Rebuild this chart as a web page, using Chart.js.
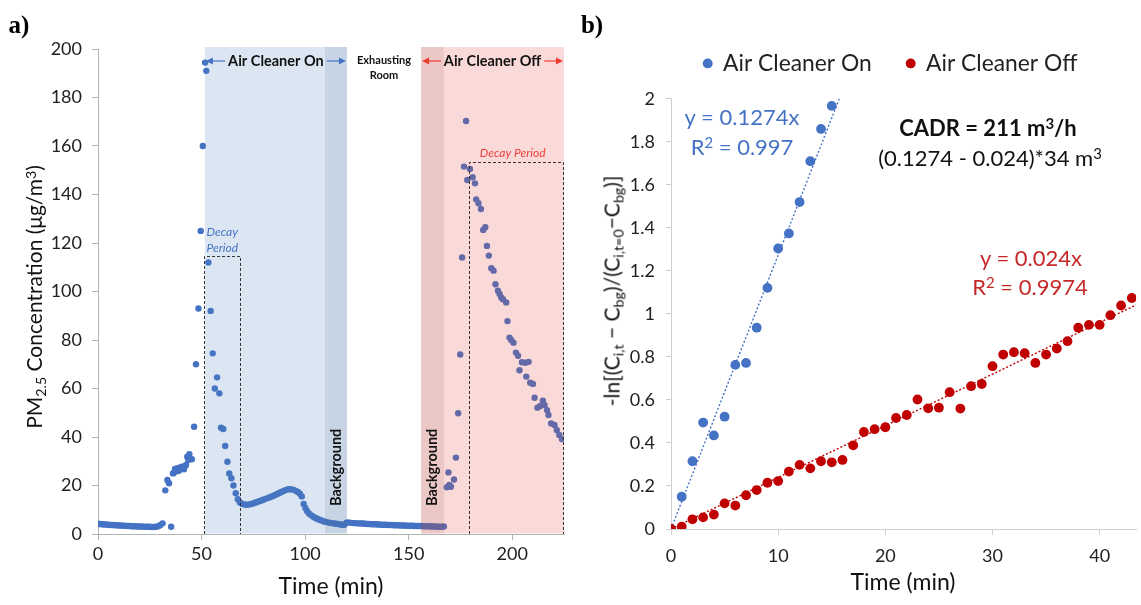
<!DOCTYPE html>
<html><head><meta charset="utf-8">
<script src="https://cdn.jsdelivr.net/npm/chart.js@4.4.1/dist/chart.umd.min.js"></script>
<style>
html,body{margin:0;padding:0;background:#fff;}
body{width:1141px;height:605px;position:relative;overflow:hidden;font-family:Lato,'Open Sans',sans-serif;color:#111;}
canvas{position:absolute;top:0;}
#left{left:0;}
#right{left:575px;}
.t{position:absolute;white-space:nowrap;transform:translate(-50%,-50%);line-height:1;}
.r{transform:translate(-50%,-50%) rotate(-90deg);}
sub,sup{font-size:0.68em;line-height:0;position:relative;vertical-align:baseline;}
sub{top:0.3em;} sup{top:-0.45em;}
.panel{font-family:'Liberation Serif','DejaVu Serif',serif;font-weight:bold;font-size:25px;color:#000;}
</style></head><body>
<canvas id="left" width="575" height="605"></canvas>
<canvas id="right" width="566" height="605"></canvas>
<div class="t panel" style="left:19px;top:24px">a)</div>
<div class="t panel" style="left:592px;top:24px">b)</div>
<div class="t r" style="left:33px;top:297px;font-size:21px">PM<sub>2.5</sub> Concentration (μg/m<sup>3</sup>)</div>
<div class="t" style="left:331px;top:585px;font-size:23px">Time (min)</div>
<div class="t r" style="left:611px;top:291px;font-size:21px">-ln[(C<sub>i,t</sub> − C<sub>bg</sub>)/(C<sub>i,t=0</sub>−C<sub>bg</sub>)]</div>
<div class="t" style="left:903px;top:581px;font-size:23px">Time (min)</div>
<div class="t" style="left:742px;top:117px;font-size:22px;color:#4472c4">y = 0.1274x</div>
<div class="t" style="left:742px;top:147px;font-size:22px;color:#4472c4">R<sup>2</sup> = 0.997</div>
<div class="t" style="left:988px;top:128px;font-size:22px;font-weight:bold">CADR = 211 m<sup>3</sup>/h</div>
<div class="t" style="left:990px;top:158px;font-size:22px">(0.1274 - 0.024)*34 m<sup>3</sup></div>
<div class="t" style="left:1031px;top:258px;font-size:22px;color:#c62828">y = 0.024x</div>
<div class="t" style="left:1030px;top:287px;font-size:22px;color:#c62828">R<sup>2</sup> = 0.9974</div>
<script>
// ---------- Panel a) data ----------
const pmTime = [
 0,1,2,3,4,5,6,7,8,9,10,11,12,13,14,15,16,17,18,19,20,21,22,23,24,25,26,27,28,29,30,
 31.2,32.5,33.5,34.3,35.3,36.2,36.7,37.2,37.7,38.3,38.8,39.3,39.9,40.4,41.0,41.5,42.0,42.5,43.1,43.6,44.1,45.3,46.4,47.3,48.5,49.6,50.6,51.7,52.3,
 53.3,54.4,55.4,56.4,57.5,58.6,59.4,60.5,61.4,62.5,63.4,64.4,65.4,66.5,67.5,
 68.5,69.5,70.5,71.5,72.5,73.5,74.5,75.5,76.5,77.5,78.5,79.5,80.5,81.5,82.5,83.5,84.5,85.5,86.5,87.5,88.5,89.5,90.5,91.5,92.5,93.5,94.5,95.5,96.5,97.5,
 98.4,99.3,100.2,
 101,102,103,104,105,106,107,108,109,110,111,112,113,114,115,116,117,118,119,
 120,121,122,123,124,125,126,127,128,129,130,131,132,133,134,135,136,137,138,139,140,141,142,143,144,145,146,147,148,149,
 150,151,152,153,154,155,156,157,158,159,160,161,162,163,164,165,166,167,
 168.4,169.2,169.6,170.4,171.9,172.8,173.9,174.9,175.8,176.7,177.7,178.3,179.6,180.9,182.0,182.6,183.7,184.9,186.0,187.0,
 187.8,188.7,189.9,191.0,191.9,193.1,193.9,194.7,195.5,197.1,197.7,198.7,199.5,200.6,201.8,202.8,203.5,204.7,206.3,206.8,
 207.9,208.7,210.0,210.8,212.2,213.5,214.8,215.6,216.8,217.5,218.8,220.4,221.5,222.7,224.0
];
const pmValue = [
 4.2,4.1,4.0,3.9,3.9,3.8,3.7,3.7,3.6,3.6,3.5,3.5,3.4,3.4,3.3,3.3,3.2,3.2,3.2,3.1,3.1,3.1,3.0,3.0,3.0,3.0,2.9,2.9,3.0,3.2,3.6,
 4.4,18,22.3,20.9,3.0,25.0,25.3,26.8,26.1,27.1,26.0,26.4,27.5,27.8,27.2,26.7,28.0,28.5,31.9,30.5,32.9,30.8,44.2,70,93,125,160,194.4,191,
 112,92,74.5,60,64.6,58,43.8,43.3,36.3,29.8,25,23,20,16.8,14.3,
 13.0,12.5,12.2,12.1,12.1,12.3,12.5,12.8,13.1,13.4,13.7,14.0,14.4,14.7,15.0,15.4,15.7,16.1,16.5,16.9,17.3,17.7,18.1,18.4,18.5,18.4,18.2,17.8,17.3,16.6,
 15.5,12.4,10.6,
 9.4,8.4,7.7,7.1,6.6,6.2,5.9,5.6,5.2,5.0,4.8,4.6,4.5,4.3,4.2,4.1,3.9,3.8,3.8,
 4.7,4.8,4.6,4.5,4.5,4.4,4.4,4.3,4.3,4.2,4.1,4.1,4.0,4.0,4.0,3.9,3.9,3.8,3.8,3.8,3.7,3.7,3.7,3.6,3.6,3.6,3.5,3.5,3.5,3.4,
 3.4,3.4,3.4,3.3,3.3,3.3,3.3,3.2,3.2,3.2,3.2,3.1,3.1,3.1,3.0,3.0,3.0,3.1,
 19.3,25.4,20.2,19.5,22.5,31.5,49.8,74,114,151.5,170.3,146,150.5,147.1,144.6,138,136.4,134,125.4,126.5,
 118.8,114.8,109.6,108.6,103,100.3,99,97.5,96.8,95.5,87.8,81,80,78.9,74.8,73.5,67.5,70.8,70.6,64.9,
 71,62.4,61.9,56.2,52.1,52.8,55,53.2,51.1,49.1,45.6,45,42.9,40.8,39.2
];
const leftXTicks = [0,50,100,150,200];
const leftYTicks = [0,20,40,60,80,100,120,140,160,180,200];
// periods (minutes) and decay boxes [start, end, top value]
const onPeriod = [51.6, 120.2];
const onBackground = [109.6, 120.2];
const offPeriod = [156.0, 225];
const offBackground = [156.0, 167.0];
const onDecayBox = [51.4, 68.5, 114.5];
const offDecayBox = [179.0, 224.4, 153.5];

// ---------- Panel b) data ----------
const decayTime = [0,1,2,3,4,5,6,7,8,9,10,11,12,13,14,15,16,17,18,19,20,21,22,23,24,25,26,27,28,29,30,31,32,33,34,35,36,37,38,39,40,41,42,43];
const onDecay = [0,0.15,0.315,0.495,0.435,0.522,0.763,0.772,0.936,1.121,1.304,1.374,1.52,1.71,1.86,1.967];
const offDecay = [0,0.011,0.045,0.054,0.067,0.119,0.109,0.157,0.181,0.215,0.223,0.267,0.298,0.282,0.315,0.31,0.321,0.389,0.451,0.464,0.473,0.516,0.53,0.602,0.561,0.564,0.636,0.56,0.664,0.674,0.757,0.811,0.822,0.817,0.772,0.811,0.839,0.873,0.936,0.949,0.949,0.994,1.039,1.074];
const onSlope = 0.1274;
const offSlope = 0.024;
const rightXTicks = [0,10,20,30,40];
const rightYTicks = [0,0.2,0.4,0.6,0.8,1,1.2,1.4,1.6,1.8,2];

Chart.defaults.font.family = "Lato, 'Open Sans', sans-serif";
Chart.defaults.color = '#222';

function arrow(ctx, x1, x2, y, color){
  const d = Math.sign(x2 - x1);
  ctx.strokeStyle = color; ctx.fillStyle = color; ctx.lineWidth = 1.2;
  ctx.beginPath(); ctx.moveTo(x1, y); ctx.lineTo(x2 - d*4, y); ctx.stroke();
  ctx.beginPath(); ctx.moveTo(x2, y); ctx.lineTo(x2 - d*7, y - 3.5); ctx.lineTo(x2 - d*7, y + 3.5); ctx.closePath(); ctx.fill();
}

const leftDecor = {
  id: 'leftDecor',
  afterDatasetsDraw(chart){
    const {ctx, chartArea: ca, scales: {x, y}} = chart;
    const px = v => x.getPixelForValue(v);
    const py = v => y.getPixelForValue(v);
    ctx.save();
    const band = (r, c) => { const a = px(r[0]), b = px(r[1]); ctx.fillStyle = c; ctx.fillRect(a, ca.top - 2, b - a, ca.bottom - ca.top + 1.5); };
    band(onPeriod, 'rgba(80,130,190,0.2)');
    band(onBackground, 'rgba(60,90,130,0.13)');
    band(offPeriod, 'rgba(230,70,60,0.2)');
    band(offBackground, 'rgba(120,60,60,0.12)');
    // dashed decay boxes
    ctx.strokeStyle = '#333'; ctx.lineWidth = 1; ctx.setLineDash([3, 2]);
    [onDecayBox, offDecayBox].forEach(b => {
      const l = Math.round(px(b[0])) + 0.5, r = Math.round(px(b[1])) + 0.5, t = Math.round(py(b[2])) + 0.5;
      ctx.beginPath(); ctx.moveTo(l, ca.bottom); ctx.lineTo(l, t); ctx.lineTo(r, t); ctx.lineTo(r, ca.bottom); ctx.stroke();
    });
    ctx.setLineDash([]);
    // period headings with arrows
    const heading = (r, text, color) => {
      ctx.font = 'bold 14.5px Lato'; ctx.fillStyle = '#111'; ctx.textAlign = 'center'; ctx.textBaseline = 'middle';
      const a = px(r[0]), b = px(r[1]), mid = (a + b) / 2, yy = ca.top + 12;
      ctx.fillText(text, mid, yy);
      const w = ctx.measureText(text).width;
      arrow(ctx, mid - w/2 - 3, a + 1, yy, color);
      arrow(ctx, mid + w/2 + 3, b - 1, yy, color);
    };
    heading(onPeriod, 'Air Cleaner On', '#4472c4');
    heading(offPeriod, 'Air Cleaner Off', '#ef3b32');
    const gapMid = (px(onPeriod[1]) + px(offPeriod[0])) / 2;
    ctx.font = 'bold 11px Lato'; ctx.fillStyle = '#111'; ctx.textAlign = 'center'; ctx.textBaseline = 'middle';
    ctx.fillText('Exhausting', gapMid, ca.top + 11);
    ctx.fillText('Room', gapMid, ca.top + 26);
    // Background labels (rotated)
    ctx.font = 'bold 14.5px Lato'; ctx.textAlign = 'left';
    [onBackground, offBackground].forEach(r => {
      ctx.save();
      ctx.translate((px(r[0]) + px(r[1])) / 2, ca.bottom - 28);
      ctx.rotate(-Math.PI / 2);
      ctx.fillText('Background', 0, 0);
      ctx.restore();
    });
    // Decay period labels
    ctx.font = 'italic 12px Lato'; ctx.textAlign = 'left'; ctx.fillStyle = '#4472c4';
    ctx.fillText('Decay', px(onDecayBox[0]) + 2, ca.top + 183);
    ctx.fillText('Period', px(onDecayBox[0]) + 2, ca.top + 199);
    ctx.fillStyle = '#f03c3c';
    ctx.fillText('Decay Period', px(offDecayBox[0]) + 11, ca.top + 104);
    ctx.restore();
  }
};

// centre the legend over the plotted series rather than the whole panel
const legendShift = {
  id: 'legendShift',
  afterLayout(chart){
    const lg = chart.legend;
    if (lg) { lg.left += 24; lg.right += 24; }
  }
};

const axisGrid = c => ({ display: true, drawOnChartArea: false, drawTicks: true, tickLength: 6, color: c });

new Chart(document.getElementById('left'), {
  type: 'scatter',
  data: { datasets: [{
    label: 'PM2.5',
    data: pmTime.map((t, i) => ({x: t, y: pmValue[i]})),
    backgroundColor: '#4472c4', borderColor: '#4472c4', borderWidth: 0,
    pointRadius: 3.2, pointHoverRadius: 3.2
  }]},
  options: {
    responsive: false, animation: false, devicePixelRatio: 1, events: [],
    layout: { padding: { top: 49, right: 11, left: 0, bottom: 0 } },
    plugins: { legend: { display: false }, tooltip: { enabled: false } },
    scales: {
      x: { type: 'linear', min: 0, max: 225,
        afterBuildTicks: s => { s.ticks = leftXTicks.map(v => ({value: v})); },
        afterFit: s => { s.height = 71; },
        grid: axisGrid('#b3b3b3'), border: { color: '#b3b3b3', width: 1 },
        ticks: { font: { size: 18 }, color: '#222', padding: 3, maxRotation: 0 } },
      y: { min: 0, max: 200,
        afterBuildTicks: s => { s.ticks = leftYTicks.map(v => ({value: v})); },
        afterFit: s => { s.width = 98; },
        grid: axisGrid('#b3b3b3'), border: { color: '#b3b3b3', width: 1 },
        ticks: { font: { size: 18 }, color: '#222', padding: 10 } }
    }
  },
  plugins: [leftDecor]
});

const onEnd = 2 / onSlope;
const offEnd = 43.4;
new Chart(document.getElementById('right'), {
  type: 'scatter',
  data: { datasets: [
    { label: 'Air Cleaner On', data: onDecay.map((v, i) => ({x: decayTime[i], y: v})),
      backgroundColor: '#4472c4', borderColor: '#4472c4', borderWidth: 0, pointRadius: 4.9, order: 0.5 },
    { label: 'Air Cleaner Off', data: offDecay.map((v, i) => ({x: decayTime[i], y: v})),
      backgroundColor: '#c00000', borderColor: '#c00000', borderWidth: 0, pointRadius: 4.9, order: 0 },
    { type: 'line', label: 'On fit', data: [{x: 0, y: 0}, {x: onEnd, y: onSlope * onEnd}],
      borderColor: '#4472c4', borderWidth: 1.4, borderDash: [2, 2], pointRadius: 0, fill: false, order: 1 },
    { type: 'line', label: 'Off fit', data: [{x: 0, y: 0}, {x: offEnd, y: offSlope * offEnd}],
      borderColor: '#c00000', borderWidth: 1.4, borderDash: [2, 2], pointRadius: 0, fill: false, order: 1 }
  ]},
  options: {
    responsive: false, animation: false, devicePixelRatio: 1, events: [],
    layout: { padding: { top: 17, right: 3, left: 20, bottom: 0 } },
    plugins: {
      legend: { display: true, position: 'top', align: 'center',
        labels: { usePointStyle: true, boxWidth: 8, boxHeight: 7, padding: 35,
          font: { size: 22.8 }, color: '#222', filter: item => item.datasetIndex < 2,
          sort: (a, b) => a.datasetIndex - b.datasetIndex } },
      subtitle: { display: true, text: '', weight: 500, padding: { top: 2, bottom: 2 }, font: { size: 10, lineHeight: 1 } },
      tooltip: { enabled: false }
    },
    scales: {
      x: { type: 'linear', min: 0, max: 43.4,
        afterBuildTicks: s => { s.ticks = rightXTicks.map(v => ({value: v})); },
        afterFit: s => { s.height = 76; },
        grid: axisGrid('#cfcfcf'), border: { color: '#cfcfcf', width: 1 },
        ticks: { font: { size: 18 }, color: '#222', padding: 10, maxRotation: 0 } },
      y: { min: 0, max: 2,
        afterBuildTicks: s => { s.ticks = rightYTicks.map(v => ({value: v})); },
        afterFit: s => { s.width = 76; },
        grid: Object.assign(axisGrid('#cfcfcf'), { tickLength: 5 }), border: { color: '#cfcfcf', width: 1 },
        ticks: { font: { size: 18 }, color: '#222', padding: 11, callback: v => String(Math.round(v * 10) / 10) } }
    }
  },
  plugins: [legendShift]
});
</script>
</body></html>
